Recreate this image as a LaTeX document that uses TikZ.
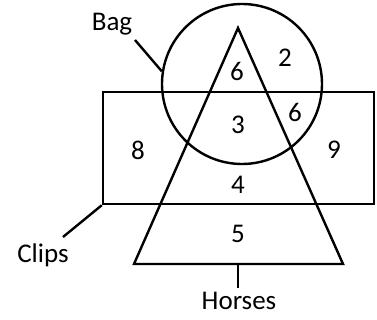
\documentclass[tikz,border=0pt]{standalone}
\usepackage{fontspec}
\setmainfont{Carlito}
\usetikzlibrary{positioning}

\begin{document}
\begin{tikzpicture}[x=1pt, y=-1pt, line width=2.4pt,
  every node/.style={font=\fontsize{27}{32}\selectfont, inner sep=1pt},
  num/.style={}]
\useasboundingbox (0,0) rectangle (377,320);
% the three sets
\node[draw, circle, minimum size=160pt, inner sep=0pt] (bag) at (242,84) {};
\node[draw, rectangle, minimum width=271pt, minimum height=112pt, inner sep=0pt] (clips) at (238.5,148) {};
\coordinate (top) at (238,28);
\coordinate (bl) at (134,264);
\coordinate (br) at (343,264);
\draw[line join=miter] (top) -- (bl) -- (br) -- cycle;

% labels
\node (baglabel) at (112,24) {Bag};
\coordinate (bagend) at (135,40);
\draw (bagend) -- (bag.171);

\node (clipslabel) at (43,255) {Clips};
\coordinate (clipsend) at (63,237);
\draw (clipsend) -- (clips.south west);

\node (horseslabel) at (239,301) {Horses};
\coordinate (horsestop) at (238,264);
\coordinate (horsesend) at (238,288);
\draw (horsestop) -- (horsesend);

% counts
\node[num] (n6a) at (237,71) {6};
\node[num] (n2) at (285,58) {2};
\node[num] (n6b) at (295,112) {6};
\node[num] (n3) at (238,125) {3};
\node[num] (n8) at (138,150) {8};
\node[num] (n9) at (334,150) {9};
\node[num] (n4) at (238,185) {4};
\node[num] (n5) at (238,234) {5};
\end{tikzpicture}
\end{document}
